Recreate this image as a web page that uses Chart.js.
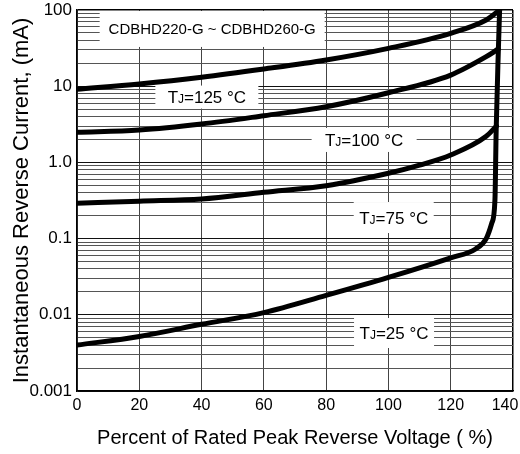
<!DOCTYPE html>
<html>
<head>
<meta charset="utf-8">
<script src="https://cdn.jsdelivr.net/npm/chart.js@4.4.0/dist/chart.umd.min.js"></script>
<style>
    html, body { margin: 0; padding: 0; background: #fff; }
</style>
</head>
<body>
<canvas id="chart" width="520" height="454"></canvas>
<script>
// Reverse current vs. percent of rated peak reverse voltage
const xTicks = [0, 20, 40, 60, 80, 100, 120, 140];
const yTickValues = [0.001, 0.01, 0.1, 1, 10, 100];
const yTickLabels = ['0.001', '0.01', '0.1', '1.0', '10', '100'];

const pct125 = [0, 20, 40, 60, 80, 100, 120, 131.4, 134, 135.7];
const cur125 = [9.1, 10.7, 13.1, 16.8, 22.1, 31.4, 49.4, 74, 88, 100];

const pct100 = [0, 20, 40, 60, 80, 100, 120, 131.4, 135.3];
const cur100 = [2.48, 2.66, 3.19, 4.1, 5.38, 8.2, 14.0, 24.4, 30.8];

const pct75 = [0, 20, 40, 60, 80, 100, 110, 120, 131.4, 134.7];
const cur75 = [0.29, 0.31, 0.33, 0.405, 0.494, 0.72, 0.92, 1.25, 2.2, 3.0];

const pct25 = [0, 20, 40, 60, 80, 100, 120, 128, 131.4, 133.2, 134.2, 134.6, 135.3, 135.7];
const cur25 = [0.0040, 0.0052, 0.0075, 0.0107, 0.018, 0.031, 0.056, 0.073, 0.10, 0.16, 0.32, 2.66, 30, 100];

const partNames = ['CDBHD220-G ~ CDBHD260-G'];
const tempLabels = ['125', '100', '75', '25'];

const FONT = "'Liberation Sans', Arial, sans-serif";
Chart.defaults.font.family = FONT;
Chart.defaults.color = '#000';

function points(xs, ys) {
    return xs.map((v, i) => ({ x: v, y: ys[i] }));
}

function curve(xs, ys) {
    return {
        data: points(xs, ys),
        borderColor: '#000',
        borderWidth: 5,
        pointRadius: 0,
        fill: false,
        cubicInterpolationMode: 'monotone',
        borderJoinStyle: 'round',
        borderCapStyle: 'round'
    };
}

function isDecade(v) {
    return yTickValues.findIndex(t => Math.abs(t - v) < t * 1e-6);
}

// draws text pieces (T, small J, rest) centred on cx, cy
function drawParts(ctx, parts, cx, cy) {
    let total = 0;
    parts.forEach(p => {
        ctx.font = p.size + 'px ' + FONT;
        p.w = ctx.measureText(p.t).width;
        total += p.w;
    });
    let x = cx - total / 2;
    const base = cy + parts[0].size * 0.36;
    ctx.fillStyle = '#000';
    ctx.textAlign = 'left';
    ctx.textBaseline = 'alphabetic';
    parts.forEach(p => {
        ctx.font = p.size + 'px ' + FONT;
        ctx.fillText(p.t, x, base);
        x += p.w;
    });
}

function tjParts(t) {
    return [{ t: 'T', size: 17 }, { t: 'J', size: 12 }, { t: '=' + t + ' \u00B0C', size: 17 }];
}

const labelBoxes = {
    id: 'labelBoxes',
    beforeDatasetsDraw(chart, args, opts) {
        const { ctx, scales: { x, y } } = chart;
        ctx.save();
        opts.items.forEach(item => {
            const cx = x.getPixelForValue(item.x);
            const cy = y.getPixelForValue(item.y);
            ctx.fillStyle = '#fff';
            ctx.fillRect(cx - item.w / 2, cy - item.h / 2, item.w, item.h);
            drawParts(ctx, item.parts, cx, cy);
        });
        ctx.restore();
    }
};

const ctx = document.getElementById('chart').getContext('2d');
const chart = new Chart(ctx, {
    type: 'line',
    data: {
        datasets: [
            curve(pct125, cur125),
            curve(pct100, cur100),
            curve(pct75, cur75),
            curve(pct25, cur25)
        ]
    },
    options: {
        responsive: false,
        animation: false,
        layout: { padding: { top: 10, right: 7, left: 0, bottom: 0 } },
        plugins: {
            legend: { display: false },
            tooltip: { enabled: false },
            labelBoxes: {
                items: [
                    { x: 43.4, y: 56.4, w: 225, h: 36, parts: [{ t: partNames[0], size: 15 }] },
                    { x: 41.7, y: 7.2, w: 103, h: 23, parts: tjParts(tempLabels[0]) },
                    { x: 92.2, y: 1.97, w: 105, h: 24, parts: tjParts(tempLabels[1]) },
                    { x: 101.7, y: 0.189, w: 80, h: 31, parts: tjParts(tempLabels[2]) },
                    { x: 101.8, y: 0.00577, w: 80, h: 30, parts: tjParts(tempLabels[3]) }
                ]
            }
        },
        scales: {
            x: {
                type: 'linear',
                min: 0,
                max: 140,
                afterBuildTicks: s => { s.ticks = xTicks.map(v => ({ value: v })); },
                afterFit: s => { s.height = 63; s.paddingLeft = 0; s.paddingRight = 0; },
                ticks: {
                    autoSkip: false,
                    maxRotation: 0,
                    padding: 5,
                    font: { size: 16 },
                    // last label nudged left like the original
                    callback: v => v === 140 ? '140\u2002\u2002' : String(v)
                },
                grid: {
                    drawTicks: false,
                    color: c => (c.tick && c.tick.value === 140) ? '#000' : '#444',
                    lineWidth: c => (c.tick && c.tick.value === 140) ? 1.5 : 1
                },
                border: { display: true, color: '#000', width: 1.5 },
                title: {
                    display: true,
                    text: 'Percent of Rated Peak Reverse Voltage ( %)',
                    font: { size: 20 },
                    padding: { top: 0, bottom: 4 }
                }
            },
            y: {
                type: 'logarithmic',
                min: 0.001,
                max: 100,
                afterBuildTicks: s => {
                    const ticks = [];
                    yTickValues.slice(0, -1).forEach(d => {
                        for (let m = 1; m < 10; m++) ticks.push({ value: +(d * m).toPrecision(3) });
                    });
                    ticks.push({ value: 100 });
                    s.ticks = ticks;
                },
                afterFit: s => { s.width = 77; s.paddingTop = 0; s.paddingBottom = 0; },
                ticks: {
                    autoSkip: false,
                    padding: 5,
                    font: { size: 17 },
                    callback: v => {
                        const i = isDecade(v);
                        return i >= 0 ? yTickLabels[i] : '';
                    }
                },
                grid: {
                    drawTicks: false,
                    color: c => {
                        if (!c.tick) return '#444';
                        if (c.tick.value === 100) return '#000';
                        return isDecade(c.tick.value) >= 0 ? '#111' : '#555';
                    },
                    lineWidth: c => (c.tick && c.tick.value === 100) ? 1.5 : 1
                },
                border: { display: true, color: '#000', width: 1.5 },
                title: {
                    display: true,
                    text: 'Instantaneous Reverse Current, (mA)',
                    font: { size: 22 },
                    padding: { top: 9, bottom: 0 }
                }
            }
        }
    },
    plugins: [labelBoxes]
});
</script>
</body>
</html>
